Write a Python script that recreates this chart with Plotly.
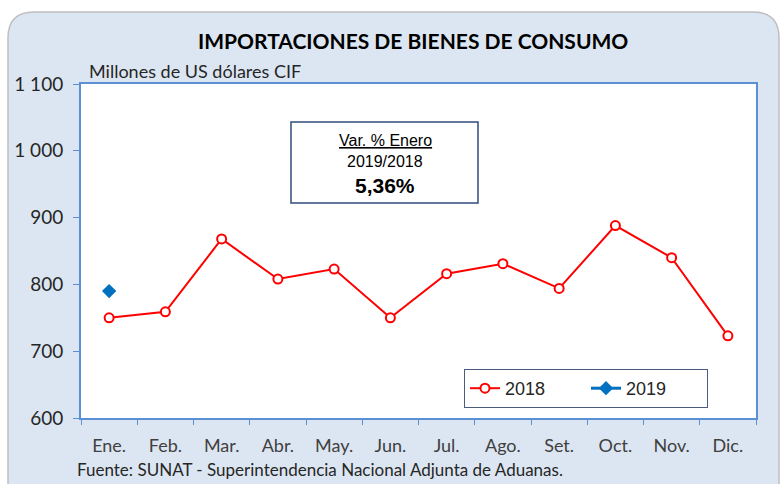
import plotly.graph_objects as go

months = ["Ene.", "Feb.", "Mar.", "Abr.", "May.", "Jun.", "Jul.", "Ago.", "Set.", "Oct.", "Nov.", "Dic."]
values_2018 = [750, 759, 868, 808, 823, 750, 816, 831, 794, 888, 840, 723]
months_2019 = ["Ene."]
values_2019 = [790]
y_ticks = [600, 700, 800, 900, 1000, 1100]
y_tick_labels = ["600", "700", "800", "900", "1 000", "1 100"]

W, H = 781, 484
L, R, T, B = 81, 25, 84, 66
PW, PH = W - L - R, H - T - B

def px(x):
    return (x - L) / PW

def py(y):
    return (H - B - y) / PH

AXIS = "#5b8fd6"
FONT_C = "Lato, Carlito, 'Open Sans', sans-serif"

fig = go.Figure()
fig.add_trace(go.Scatter(
    x=months, y=values_2018, name="2018", mode="lines+markers",
    line=dict(color="#ff0000", width=2),
    marker=dict(symbol="circle", size=9, color="white", line=dict(color="#ff0000", width=2)),
))
fig.add_trace(go.Scatter(
    x=months_2019, y=values_2019, name="2019", mode="lines+markers",
    line=dict(color="#0070c0", width=3),
    marker=dict(symbol="diamond", size=11, color="#0070c0"),
))

# rounded background panel
x0, x1, y0, y1, r = px(8), px(779), py(12), py(500), 26
rx, ry = r / PW, r / PH
path = (f"M {x0} {y1} L {x0} {y0 - ry} Q {x0} {y0} {x0 + rx} {y0} "
        f"L {x1 - rx} {y0} Q {x1} {y0} {x1} {y0 - ry} L {x1} {y1} Z")
shapes = [
    dict(type="path", xref="paper", yref="paper", path=path, fillcolor="#dce6f2",
         line=dict(color="#bfbfbf", width=1.5), layer="below"),
    dict(type="rect", xref="paper", yref="paper", x0=0, x1=1, y0=0, y1=1,
         fillcolor="white", line=dict(width=0), layer="below"),
    dict(type="rect", xref="paper", yref="paper", x0=px(291), x1=px(478), y0=py(203), y1=py(122),
         fillcolor="white", line=dict(color="#2f4e7e", width=1.5)),
]

annotations = [
    dict(text="<b>IMPORTACIONES DE BIENES DE CONSUMO</b>", x=px(413), y=py(40), xref="paper", yref="paper",
         showarrow=False, font=dict(family=FONT_C, size=21, color="#000000"), xanchor="center", yanchor="middle"),
    dict(text="Millones de US dólares CIF", x=px(87), y=py(71), xref="paper", yref="paper",
         showarrow=False, font=dict(family=FONT_C, size=18, color="#262626"), xanchor="left", yanchor="middle"),
    dict(text="Fuente: SUNAT - Superintendencia Nacional Adjunta de Aduanas.", x=px(75), y=py(469),
         xref="paper", yref="paper", showarrow=False, font=dict(family=FONT_C, size=17, color="#262626"),
         xanchor="left", yanchor="middle"),
    dict(text="<u>Var. % Enero</u>", x=px(385), y=py(140), xref="paper", yref="paper", showarrow=False,
         font=dict(family="Arial, Liberation Sans", size=16, color="#000000"), xanchor="center", yanchor="middle"),
    dict(text="2019/2018", x=px(385), y=py(161), xref="paper", yref="paper", showarrow=False,
         font=dict(family="Arial, Liberation Sans", size=16, color="#000000"), xanchor="center", yanchor="middle"),
    dict(text="<b>5,36%</b>", x=px(385), y=py(185), xref="paper", yref="paper", showarrow=False,
         font=dict(family="Arial, Liberation Sans", size=21, color="#000000"), xanchor="center", yanchor="middle"),
]

fig.update_layout(
    width=W, height=H,
    margin=dict(l=L, r=R, t=T, b=B),
    paper_bgcolor="white", plot_bgcolor="white",
    shapes=shapes, annotations=annotations,
    showlegend=True,
    legend=dict(orientation="h", x=px(464), y=py(369), xanchor="left", yanchor="top",
                bgcolor="white", bordercolor="#4a5d80", borderwidth=1,
                font=dict(family="Arial, Liberation Sans", size=18, color="#262626"),
                entrywidth=76, traceorder="normal"),
)
fig.update_xaxes(
    type="category", categoryorder="array", categoryarray=months, range=[-0.5, 11.5],
    showline=True, linecolor=AXIS, linewidth=2, mirror=True,
    ticks="outside", ticklen=5, tickcolor=AXIS, tickson="boundaries",
    showgrid=False, zeroline=False, ticklabelstandoff=10,
    tickfont=dict(family=FONT_C, size=18, color="#404040"),
)
fig.update_yaxes(
    range=[600, 1100], tickvals=y_ticks, ticktext=y_tick_labels,
    showline=True, linecolor=AXIS, linewidth=2, mirror=True,
    ticks="outside", ticklen=6, tickcolor=AXIS,
    showgrid=False, zeroline=False, ticklabelstandoff=6,
    tickfont=dict(family=FONT_C, size=19, color="#262626"),
)

fig.write_html("out.html", config={"displayModeBar": False},
               post_script="document.body.style.margin='0';document.body.style.overflow='hidden';")
